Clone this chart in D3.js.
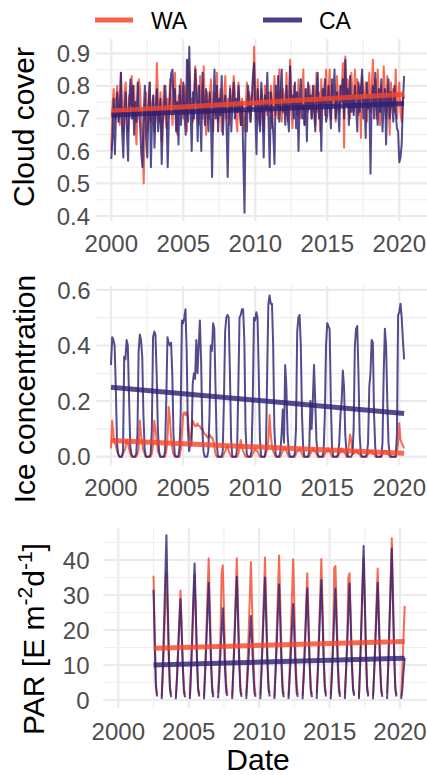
<!DOCTYPE html>
<html>
<head>
<meta charset="utf-8">
<script src="https://cdn.jsdelivr.net/npm/d3@7/dist/d3.min.js"></script>
<style>
  html, body { margin: 0; padding: 0; background: #fff; }
  #chart { width: 427px; height: 775px; }
  text { font-family: 'Liberation Sans', Arial, sans-serif; }
</style>
</head>
<body>
<div id="chart"></div>
<script>
//Series (monthly values)
const groups = ['WA', 'CA'];
const monthlyStart = 2000;      // Jan 2000
const parStart = 2002.5;        // Jul 2002

const cloudWA = [
  .60,.74,.79,.70,.76,.80,.72,.68,.84,.73,.66,.78,
  .81,.72,.66,.77,.74,.83,.70,.80,.68,.62,.75,.82,
  .79,.70,.64,.50,.73,.78,.66,.71,.81,.69,.74,.77,
  .66,.72,.87,.75,.69,.78,.63,.74,.80,.71,.67,.76,
  .72,.82,.74,.68,.79,.84,.70,.65,.77,.73,.82,.76,
  .70,.80,.75,.66,.88,.83,.72,.76,.69,.79,.86,.80,
  .74,.68,.83,.77,.70,.86,.73,.65,.78,.70,.76,.82,
  .73,.66,.78,.71,.84,.69,.75,.79,.66,.72,.77,.83,
  .70,.76,.68,.80,.72,.75,.83,.78,.70,.66,.81,.74,
  .68,.76,.70,.66,.74,.81,.72,.78,.69,.77,.74,.92,
  .76,.70,.82,.74,.68,.79,.73,.66,.80,.75,.71,.78,
  .72,.80,.67,.76,.83,.71,.78,.70,.85,.74,.69,.79,
  .77,.71,.84,.69,.76,.88,.73,.67,.80,.74,.78,.71,
  .82,.70,.76,.73,.85,.68,.79,.74,.72,.80,.77,.70,
  .75,.80,.68,.84,.72,.78,.66,.82,.74,.79,.71,.85,
  .73,.78,.85,.70,.80,.74,.76,.69,.83,.77,.72,.80,
  .79,.87,.61,.89,.74,.82,.76,.70,.84,.78,.72,.85,
  .76,.82,.71,.80,.64,.83,.78,.74,.81,.69,.77,.84,
  .72,.79,.88,.75,.82,.70,.85,.77,.68,.80,.74,.86,
  .78,.70,.83,.76,.65,.81,.74,.79,.72,.85,.70,.77,
  .81,.72,.69,.78,.76
];
const cloudCA = [
  .575,.64,.76,.59,.72,.78,.69,.73,.84,.66,.58,.72,
  .78,.66,.57,.76,.82,.70,.80,.65,.75,.69,.81,.73,
  .68,.59,.55,.72,.80,.64,.58,.74,.81,.55,.70,.77,
  .61,.73,.79,.66,.70,.76,.56,.69,.74,.80,.72,.55,
  .70,.78,.84,.85,.72,.79,.66,.75,.62,.80,.68,.74,
  .81,.71,.65,.88,.69,.92,.74,.60,.78,.70,.85,.76,
  .63,.80,.72,.60,.84,.75,.68,.79,.73,.66,.78,.70,
  .52,.74,.85,.70,.80,.66,.76,.71,.83,.65,.74,.77,
  .68,.52,.72,.79,.66,.75,.81,.70,.76,.72,.80,.73,
  .68,.75,.58,.41,.72,.66,.80,.74,.69,.76,.83,.87,
  .72,.59,.79,.70,.66,.81,.74,.58,.77,.73,.84,.70,
  .55,.78,.70,.65,.56,.80,.74,.83,.69,.77,.85,.72,
  .75,.68,.80,.71,.66,.86,.74,.77,.70,.81,.67,.78,
  .60,.76,.82,.70,.74,.68,.79,.63,.81,.73,.77,.70,
  .80,.72,.66,.78,.84,.70,.76,.60,.79,.74,.82,.69,
  .71,.80,.74,.67,.82,.76,.85,.70,.78,.73,.66,.80,
  .75,.82,.70,.88,.74,.79,.68,.83,.72,.77,.71,.80,
  .74,.66,.81,.72,.79,.85,.70,.76,.64,.81,.73,.77,
  .53,.76,.80,.70,.84,.74,.68,.79,.72,.82,.66,.75,
  .79,.62,.76,.82,.70,.78,.74,.69,.80,.72,.67,.66,
  .565,.58,.62,.75,.83
];

const iceWA = [
  .03,.13,.08,.05,.04,.02,.01,.00,.00,.00,.01,.02,
  .03,.06,.05,.03,.01,.00,.00,.00,.00,.00,.01,.03,
  .13,.08,.05,.02,.01,.00,.00,.00,.00,.00,.01,.04,
  .13,.10,.06,.02,.01,.00,.00,.00,.00,.00,.02,.06,
  .18,.14,.07,.03,.01,.00,.00,.00,.00,.00,.02,.08,
  .15,.16,.15,.16,.14,.09,.06,.08,.13,.12,.11,.11,
  .12,.11,.11,.10,.10,.09,.08,.08,.07,.07,.08,.07,
  .07,.06,.04,.01,.00,.00,.00,.00,.00,.00,.01,.02,
  .03,.04,.02,.01,.00,.00,.00,.00,.00,.00,.01,.03,
  .06,.04,.02,.01,.00,.00,.00,.00,.00,.00,.01,.02,
  .03,.02,.02,.01,.00,.00,.00,.00,.00,.01,.03,.06,
  .15,.08,.04,.02,.01,.00,.00,.00,.00,.00,.01,.02,
  .03,.03,.02,.01,.00,.00,.00,.00,.00,.00,.01,.02,
  .02,.03,.02,.01,.00,.00,.00,.00,.00,.00,.01,.02,
  .03,.02,.02,.01,.00,.00,.00,.00,.00,.00,.01,.02,
  .02,.03,.02,.01,.00,.00,.00,.00,.00,.00,.01,.02,
  .03,.02,.02,.01,.00,.00,.04,.08,.06,.02,.01,.02,
  .02,.02,.01,.01,.00,.00,.00,.00,.00,.00,.01,.02,
  .02,.02,.01,.01,.00,.00,.00,.00,.00,.00,.01,.02,
  .02,.02,.01,.01,.00,.00,.00,.00,.00,.00,.02,.05,
  .12,.06,.05,.04,.03
];
const iceCA = [
  .33,.43,.42,.40,.25,.05,.01,.00,.00,.00,.02,.36,
  .35,.42,.40,.22,.04,.01,.00,.00,.00,.01,.08,.38,
  .44,.42,.36,.15,.03,.00,.00,.00,.00,.01,.10,.43,
  .45,.44,.30,.10,.02,.00,.00,.00,.00,.02,.20,.43,
  .41,.40,.41,.30,.08,.01,.00,.00,.00,.03,.15,.49,
  .48,.50,.53,.38,.10,.02,.05,.04,.26,.30,.28,.42,
  .30,.40,.49,.35,.10,.02,.00,.00,.00,.02,.15,.40,
  .38,.48,.46,.25,.05,.00,.00,.00,.00,.02,.20,.45,
  .50,.51,.50,.30,.06,.00,.00,.00,.00,.03,.25,.50,
  .51,.53,.53,.42,.10,.01,.00,.00,.00,.02,.20,.50,
  .49,.52,.50,.30,.06,.00,.00,.00,.00,.03,.30,.55,
  .58,.55,.55,.40,.10,.01,.00,.00,.00,.02,.08,.17,
  .05,.33,.25,.08,.02,.00,.00,.00,.00,.01,.10,.45,
  .50,.51,.40,.15,.03,.00,.00,.00,.00,.02,.20,.10,
  .20,.33,.20,.06,.01,.00,.00,.00,.00,.02,.15,.40,
  .48,.47,.46,.20,.03,.00,.00,.00,.00,.01,.05,.15,
  .20,.31,.25,.08,.02,.00,.00,.00,.00,.01,.10,.40,
  .46,.47,.30,.08,.01,.00,.00,.00,.00,.01,.05,.25,
  .30,.42,.41,.15,.03,.00,.00,.00,.00,.00,.05,.30,
  .46,.40,.20,.05,.01,.00,.00,.00,.00,.00,.08,.51,
  .52,.55,.50,.42,.35
];

// PAR from Jul 2002, null = polar night (no data)
const parWA = [
  35.5,19,5,1.5,null,null,
  null,1.0,8,17,27,36.5,24,12,4,1.5,null,null,
  null,1.0,7,15,23,31.3,21,10,3,1.5,null,null,
  null,1.2,8,17,26,35.8,24,12,3.5,1.5,null,null,
  null,1.0,9,19,30,40.5,27,13,4,1.5,null,null,
  null,2.0,9,18,36,38.5,26,12,4,1.8,null,null,
  null,1.0,9,19,30,40.5,27,13,4,1.5,null,null,
  null,1.2,9,19,29,39.4,26,13,4,1.5,null,null,
  null,1.5,9,19,30,40.7,27,13,4,2.0,null,null,
  null,0.8,9,20,31,41.3,28,14,4,1.5,null,null,
  null,1.0,9,19,30,40.2,27,13,4,1.5,null,null,
  null,1.2,8,17,27,36.2,24,12,3.5,1.5,null,null,
  null,2.0,9,19,30,40.3,27,13,4,1.8,null,null,
  null,1.5,9,18,37.8,38.3,26,12,4,1.5,null,null,
  null,1.5,8,17,35,36.2,24,12,3.5,1.5,null,null,
  null,1.0,9,19,30,40.5,27,13,4,1.5,null,null,
  null,1.2,8,18,28,37.6,25,12,3.5,1.5,null,null,
  null,2.0,10,22,34,46.2,31,15,4,1.5,null,null,
  null,1.0,9,18,26.9
];
const parCA = [
  31.5,17,4,1.0,null,null,
  null,0.3,10,22,35,47.1,30,14,3,0.8,null,null,
  null,0.2,6,14,22,28.8,19,9,2,0.8,null,null,
  null,0.3,9,19,30,39,26,12,3,1.0,null,null,
  null,0.2,8,16,25,33.5,22,10,2.5,0.8,null,null,
  null,0.5,6,13,20,26.2,18,8,2,1.2,null,null,
  null,0.3,8,17,27,35.2,23,11,2.5,0.9,null,null,
  null,0.3,6,12,18,24,16,8,2,0.9,null,null,
  null,0.2,8,17,26,35,23,11,3,1.0,null,null,
  null,0.3,8,16,25,33,22,10,2.5,0.8,null,null,
  null,0.3,6,13,21,27.4,18,9,2,0.9,null,null,
  null,0.2,7,15,24,31.9,21,10,2.5,0.8,null,null,
  null,0.3,8,17,26,34.3,23,11,3,1.0,null,null,
  null,0.2,7,15,24,31.8,21,10,2.5,0.9,null,null,
  null,0.3,8,16,25,33.3,22,10,3,1.2,null,null,
  null,0.3,10,21,33,44,29,14,3,1.0,null,null,
  null,0.2,8,16,25,33.5,22,10,2.5,0.9,null,null,
  null,0.3,10,21,32,43.3,28,13,3,1.0,null,null,
  null,0.3,3,8,12
];

// Linear trends (start / end of the fitted line)
const trendCloudWA = [0.723, 0.774], trendCloudCA = [0.710, 0.746];
const trendIceWA = [0.058, 0.012], trendIceCA = [0.250, 0.155];
const trendParWA = [14.8, 16.7], trendParCA = [10.0, 11.9];

// Axis ticks
const xTicks = [2000, 2005, 2010, 2015, 2020];
const xMinor = [2002.5, 2007.5, 2012.5, 2017.5];
const cloudTicks = [0.4, 0.5, 0.6, 0.7, 0.8, 0.9];
const cloudMinor = [0.45, 0.55, 0.65, 0.75, 0.85];
const iceTicks = [0, 0.2, 0.4, 0.6];
const iceMinor = [0.1, 0.3, 0.5];
const parTicks = [0, 10, 20, 30, 40];
const parMinor = [5, 15, 25, 35, 45];

//Colores
const COLOR_WA = '#F5462B', COLOR_CA = '#2A1F72';
const colors = { WA: COLOR_WA, CA: COLOR_CA };

let W = 427, H = 775;

let svg = d3.select('#chart')
  .append('svg')
    .attr('width', W)
    .attr('height', H);

function toPoints(values, start) {
  return values.map(function(v, i) { return { t: start + i / 12, v: v }; });
}

function drawPanel(p) {
  let x = d3.scaleLinear().domain([2000, 2020]).range(p.xRange);
  let y = d3.scaleLinear().domain(p.yAnchor).range(p.yRange);

  let g = svg.append('g');

  let clipId = 'clip-' + p.id;
  svg.append('clipPath').attr('id', clipId)
    .append('rect')
      .attr('x', p.left).attr('y', p.top)
      .attr('width', W - p.left).attr('height', p.bottom - p.top);

  // minor grid
  g.selectAll('.ymin').data(p.yMinor).enter().append('line')
    .attr('x1', p.left).attr('x2', W)
    .attr('y1', function(d) { return y(d); }).attr('y2', function(d) { return y(d); })
    .attr('stroke', '#EFEFEF').attr('stroke-width', 1.2);
  g.selectAll('.xmin').data(xMinor).enter().append('line')
    .attr('y1', p.top).attr('y2', p.bottom)
    .attr('x1', function(d) { return x(d); }).attr('x2', function(d) { return x(d); })
    .attr('stroke', '#EFEFEF').attr('stroke-width', 1.2);
  // major grid
  g.selectAll('.ymaj').data(p.yTicks).enter().append('line')
    .attr('x1', p.left).attr('x2', W)
    .attr('y1', function(d) { return y(d); }).attr('y2', function(d) { return y(d); })
    .attr('stroke', '#EBEBEB').attr('stroke-width', 2.2);
  g.selectAll('.xmaj').data(xTicks).enter().append('line')
    .attr('y1', p.top).attr('y2', p.bottom)
    .attr('x1', function(d) { return x(d); }).attr('x2', function(d) { return x(d); })
    .attr('stroke', '#EBEBEB').attr('stroke-width', 2.2);

  // tick labels
  g.selectAll('.ylab').data(p.yTicks).enter().append('text')
    .attr('x', p.yLabelX)
    .attr('y', function(d) { return y(d); })
    .attr('dy', '0.36em')
    .attr('text-anchor', 'end')
    .attr('font-size', 24)
    .attr('fill', '#4D4D4D')
    .text(p.fmt);
  g.selectAll('.xlab').data(xTicks).enter().append('text')
    .attr('x', function(d) { return x(d); })
    .attr('y', p.xLabelY)
    .attr('text-anchor', 'middle')
    .attr('font-size', 24)
    .attr('fill', '#4D4D4D')
    .text(function(d) { return d; });

  let line = d3.line()
    .defined(function(d) { return d.v !== null; })
    .x(function(d) { return x(d.t); })
    .y(function(d) { return y(d.v); });

  let plot = g.append('g').attr('clip-path', 'url(#' + clipId + ')');

  // data lines
  groups.forEach(function(k) {
    plot.append('path')
      .datum(toPoints(p.series[k], p.start))
      .attr('d', line)
      .attr('fill', 'none')
      .attr('stroke', colors[k])
      .attr('stroke-opacity', 0.8)
      .attr('stroke-width', 2)
      .attr('stroke-linejoin', 'round');
  });

  // trend lines
  let tEnd = p.start + (p.series.WA.length - 1) / 12;
  groups.forEach(function(k) {
    plot.append('line')
      .attr('x1', x(p.start)).attr('x2', x(tEnd))
      .attr('y1', y(p.trend[k][0])).attr('y2', y(p.trend[k][1]))
      .attr('stroke', colors[k])
      .attr('stroke-opacity', 0.8)
      .attr('stroke-width', 5);
  });

  // y title
  let title = g.append('text')
    .attr('transform', 'translate(' + p.titleX + ',' + p.titleY + ') rotate(-90)')
    .attr('text-anchor', 'middle')
    .attr('font-size', 30)
    .attr('fill', '#000');
  if (p.id === 'par') {
    title.append('tspan').text('PAR [E m');
    title.append('tspan').attr('dy', -12).attr('font-size', 21).text('-2');
    title.append('tspan').attr('dy', 12).text('d');
    title.append('tspan').attr('dy', -12).attr('font-size', 21).text('-1');
    title.append('tspan').attr('dy', 12).text(']');
  } else {
    title.text(p.title);
  }
}

drawPanel({
  id: 'cloud', title: 'Cloud cover',
  series: { WA: cloudWA, CA: cloudCA }, start: monthlyStart,
  trend: { WA: trendCloudWA, CA: trendCloudCA },
  yTicks: cloudTicks, yMinor: cloudMinor, fmt: d3.format('.1f'),
  xRange: [111.3, 399.3], yAnchor: [0.4, 0.9], yRange: [216, 53.3],
  left: 96, top: 39, bottom: 221,
  yLabelX: 90, xLabelY: 251.5, titleX: 33.5, titleY: 127
});

drawPanel({
  id: 'ice', title: 'Ice concentration',
  series: { WA: iceWA, CA: iceCA }, start: monthlyStart,
  trend: { WA: trendIceWA, CA: trendIceCA },
  yTicks: iceTicks, yMinor: iceMinor, fmt: d3.format('.1f'),
  xRange: [111.0, 399.3], yAnchor: [0, 0.6], yRange: [456.7, 289.9],
  left: 96, top: 286, bottom: 465,
  yLabelX: 90.5, xLabelY: 496, titleX: 35, titleY: 389
});

drawPanel({
  id: 'par', title: 'PAR',
  series: { WA: parWA, CA: parCA }, start: parStart,
  trend: { WA: trendParWA, CA: trendParCA },
  yTicks: parTicks, yMinor: parMinor, fmt: d3.format('d'),
  xRange: [118.3, 400], yAnchor: [0, 40], yRange: [700, 560],
  left: 103.3, top: 528, bottom: 708,
  yLabelX: 89.5, xLabelY: 740, titleX: 43.5, titleY: 639
});

// x title
svg.append('text')
  .attr('x', 258).attr('y', 770)
  .attr('text-anchor', 'middle')
  .attr('font-size', 30)
  .text('Date');

// legend
let legend = svg.append('g');
[{ k: 'WA', x1: 95, x2: 133, tx: 151 }, { k: 'CA', x1: 263, x2: 302, tx: 319 }].forEach(function(l) {
  legend.append('line')
    .attr('x1', l.x1).attr('x2', l.x2).attr('y1', 20).attr('y2', 20)
    .attr('stroke', colors[l.k]).attr('stroke-opacity', 0.85).attr('stroke-width', 5);
  legend.append('text')
    .attr('x', l.tx).attr('y', 29.3)
    .attr('font-size', 23)
    .text(l.k);
});
</script>
</body>
</html>
